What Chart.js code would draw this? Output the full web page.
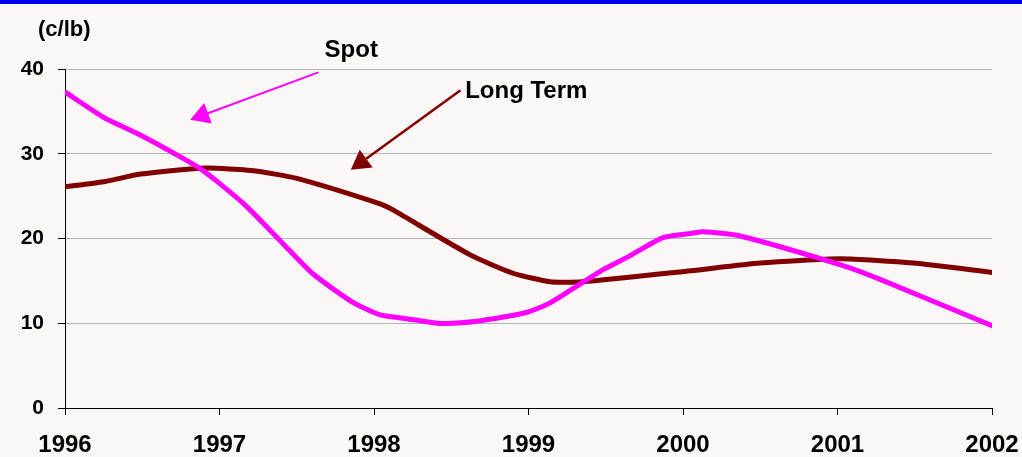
<!DOCTYPE html>
<html>
<head>
<meta charset="utf-8">
<script src="https://cdn.jsdelivr.net/npm/chart.js@4/dist/chart.umd.min.js"></script>
<style>
html,body{margin:0;padding:0;background:#fbf7f6;}
#wrap{width:1022px;height:457px;position:relative;}
</style>
</head>
<body>
<div id="wrap"><canvas id="c" width="1022" height="457"></canvas></div>
<script>
// ---- data ----
const yearTicks = ['1996','1997','1998','1999','2000','2001','2002'];
const valueTicks = [0, 10, 20, 30, 40];

const spotX = [1996.0,1996.25,1996.5,1996.75,1996.87,1997.0,1997.18,1997.4,1997.6,1997.86,1998.04,1998.19,1998.41,1998.51,1998.69,1998.99,1999.14,1999.48,1999.64,1999.87,2000.05,2000.13,2000.37,2001.02,2001.26,2002.0];
const spotY = [37.3,34.3,32.1,29.6,28.3,26.5,23.7,19.6,15.9,12.5,11.0,10.6,10.0,10.0,10.3,11.3,12.4,16.3,17.8,20.1,20.6,20.8,20.3,16.9,15.3,9.7];

const longX = [1996.0,1996.25,1996.49,1996.87,1996.98,1997.22,1997.5,1998.04,1998.12,1998.62,1998.9,1999.14,1999.35,2000.05,2000.5,2001.02,2001.49,2002.0];
const longY = [26.1,26.7,27.6,28.3,28.3,28.0,27.1,24.1,23.4,18.1,15.9,14.9,14.9,16.2,17.1,17.6,17.1,16.0];

const unitLabel = '(c/lb)';
// annotations in data units: label position, arrow start, arrow tip
const annotations = [
  {text:'Spot', color:'#ff00ff', tx:1997.68, ty:42.2, x0:1997.64, y0:39.6, x1:1996.81, y1:34.0, lw:2},
  {text:'Long Term', color:'#800000', tx:1998.59, ty:37.4, x0:1998.56, y0:37.5, x1:1997.85, y1:28.1, lw:2.5}
];

const FONT = '"Liberation Sans", Arial, sans-serif';

const pts = (xs, ys) => xs.map((x, i) => ({x: x, y: ys[i]}));

const bgPlugin = {
  id: 'bg',
  beforeDraw(chart) {
    const ctx = chart.ctx;
    ctx.save();
    ctx.fillStyle = '#fbf7f6';
    ctx.fillRect(0, 0, chart.width, chart.height);
    ctx.fillStyle = '#0000f0';
    ctx.fillRect(0, 0, chart.width, 4);
    ctx.restore();
  }
};

function arrow(ctx, x0, y0, x1, y1, color, lw) {
  const ang = Math.atan2(y1 - y0, x1 - x0);
  const hl = 19, hw = 11;
  const bx = x1 - hl * Math.cos(ang), by = y1 - hl * Math.sin(ang);
  ctx.strokeStyle = color; ctx.fillStyle = color; ctx.lineWidth = lw;
  ctx.beginPath(); ctx.moveTo(x0, y0); ctx.lineTo(bx, by); ctx.stroke();
  ctx.beginPath();
  ctx.moveTo(x1, y1);
  ctx.lineTo(bx + hw * Math.sin(ang), by - hw * Math.cos(ang));
  ctx.lineTo(bx - hw * Math.sin(ang), by + hw * Math.cos(ang));
  ctx.closePath(); ctx.fill();
}

const annPlugin = {
  id: 'ann',
  afterDraw(chart) {
    const ctx = chart.ctx, xs = chart.scales.x, ys = chart.scales.y;
    ctx.save();
    ctx.font = 'bold 22px ' + FONT;
    ctx.fillStyle = '#000';
    ctx.textAlign = 'left';
    ctx.textBaseline = 'middle';
    ctx.fillText(unitLabel, 38, 30);
    annotations.forEach(a => {
      arrow(ctx, xs.getPixelForValue(a.x0), ys.getPixelForValue(a.y0),
            xs.getPixelForValue(a.x1), ys.getPixelForValue(a.y1), a.color, a.lw);
      ctx.font = 'bold 24px ' + FONT;
      ctx.fillStyle = '#000';
      ctx.textAlign = 'left';
      ctx.textBaseline = 'middle';
      ctx.fillText(a.text, xs.getPixelForValue(a.tx), ys.getPixelForValue(a.ty));
    });
    ctx.restore();
  }
};

new Chart(document.getElementById('c'), {
  type: 'scatter',
  data: {
    datasets: [
      {label:'Spot', data: pts(spotX, spotY), showLine:true, borderColor:'#ff00ff', backgroundColor:'#ff00ff', borderWidth:5, pointRadius:0, tension:0.2, borderCapStyle:'round', borderJoinStyle:'round'},
      {label:'Long Term', data: pts(longX, longY), showLine:true, borderColor:'#800000', backgroundColor:'#800000', borderWidth:5, pointRadius:0, tension:0.2, borderCapStyle:'round', borderJoinStyle:'round'}
    ]
  },
  options: {
    responsive:false,
    animation:false,
    layout:{padding:{top:69, right:0, left:0, bottom:0}},
    plugins:{legend:{display:false}, tooltip:{enabled:false}},
    scales:{
      x:{
        type:'linear', min:1996, max:2002,
        afterBuildTicks(s){ s.ticks = yearTicks.map(t => ({value:+t})); },
        afterFit(s){ s.height = 49; s.paddingRight = 30; s.paddingLeft = 0; },
        ticks:{ color:'#000', font:{family:FONT, size:24, weight:'bold'}, padding:16, maxRotation:0, autoSkip:false,
          callback:(v)=> yearTicks[Math.round(v-1996)] },
        grid:{ drawOnChartArea:false, tickLength:7, color:'#000', tickColor:'#000' },
        border:{ color:'#000', width:1 }
      },
      y:{
        min:0, max:40,
        afterBuildTicks(s){ s.ticks = valueTicks.map(v => ({value:v})); },
        afterFit(s){ s.width = 65; },
        ticks:{ color:'#000', font:{family:FONT, size:21, weight:'bold'}, padding:14,
          callback:(v)=> String(v) },
        grid:{ tickLength:7, color:(c)=> c.tick && c.tick.value===0 ? 'rgba(0,0,0,0)' : '#b4b4b4', tickColor:'#000', lineWidth:1 },
        border:{ color:'#000', width:1 }
      }
    }
  },
  plugins:[bgPlugin, annPlugin]
});
</script>
</body>
</html>
